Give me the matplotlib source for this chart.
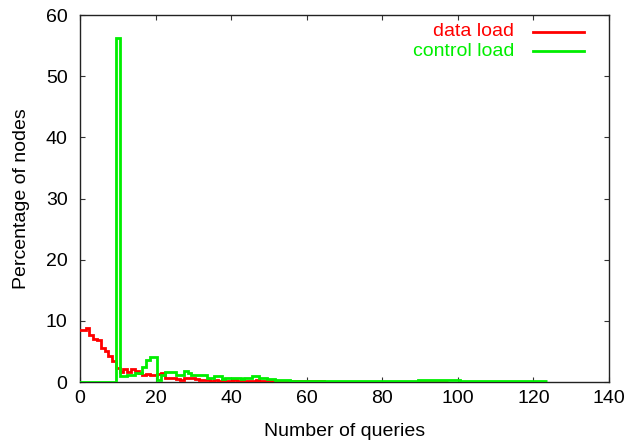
"""
Histogram of per-node query load (data vs control), gnuplot-like style.
Writes out.png
"""
import numpy as np
import matplotlib
matplotlib.use('Agg')
import matplotlib.pyplot as plt

# bin values at integer x = 0, 1, 2, ... (steps centred on x, width 1)
data_load = [8.5, 8.5, 8.8, 7.7, 7.0, 6.9, 5.5, 5.0, 4.2, 3.5,
             2.3, 1.6, 2.1, 1.7, 2.2, 1.8, 1.4, 1.2, 1.3, 1.1,
             1.1, 1.3, 1.4, 0.7, 0.7, 0.6, 0.5, 0.4, 0.7, 0.7,
             0.7, 0.5, 0.4, 0.3, 0.3, 0.2, 0.3, 0.2, 0.3, 0.2,
             0.1, 0.3, 0.2, 0.1, 0.2, 0.1, 0.2, 0.3, 0.1, 0.1,
             0.1, 0.1, 0.1, 0.1, 0.1, 0.1, 0.1]
control_load = [0.0, 0.0, 0.0, 0.0, 0.0, 0.0, 0.0, 0.0, 0.0, 0.0,
                56.3, 0.9, 0.9, 1.1, 1.1, 1.4, 1.4, 2.5, 3.6, 4.1,
                4.1, 0.3, 1.2, 1.6, 1.6, 1.7, 1.1, 1.1, 1.8, 1.5,
                1.1, 1.2, 1.2, 1.2, 0.6, 0.6, 0.9, 0.9, 0.5, 0.7,
                0.6, 0.7, 0.6, 0.5, 0.6, 0.7, 0.9, 1.0, 0.6, 0.6,
                0.5, 0.5, 0.4, 0.4, 0.3, 0.3, 0.2]
# wide low tail segments (edges, values)
data_tail_edges = [56.5, 64.5, 89.5, 97.5]
data_tail_values = [0.1, 0.0, 0.1]
control_tail_edges = [56.5, 89.5, 100.5, 123.5]
control_tail_values = [0.15, 0.35, 0.15]

labels = ['data load', 'control load']
colors = ['#ff0000', '#00ee00']

plt.rcParams['font.family'] = ['Liberation Sans', 'DejaVu Sans']
plt.rcParams['font.size'] = 14


def build(values, tail_edges, tail_values):
    edges = np.arange(len(values) + 1) - 0.5
    edges = np.concatenate([edges, tail_edges[1:]])
    vals = np.concatenate([values, tail_values])
    return edges, vals


fig = plt.figure(figsize=(6.37, 4.40), dpi=100)
ax = fig.add_axes([80 / 637, 58 / 440, 529 / 637, 367 / 440])

series = [build(data_load, data_tail_edges, data_tail_values),
          build(control_load, control_tail_edges, control_tail_values)]
for (edges, vals), c, z in zip(series, colors, [2.6, 2.7]):
    ax.stairs(vals, edges, baseline=None, color=c, linewidth=2, zorder=z)

ax.set_xlim(0, 140)
ax.set_ylim(0, 60)
ax.set_xticks(np.arange(0, 141, 20))
ax.set_yticks(np.arange(0, 61, 10))
ax.tick_params(direction='in', length=3.6, width=0.8, top=True, right=True,
               color='#333333')
ax.tick_params(axis='x', pad=6)
ax.tick_params(axis='y', pad=9)
for s in ax.spines.values():
    s.set_linewidth(1)
    s.set_color('#222222')

ax.set_xlabel('Number of queries', labelpad=11)
ax.set_ylabel('Percentage of nodes', labelpad=11)

# gnuplot-style key: right-aligned label, then line sample
key_y = [0.9545, 0.9019]
for lab, c, y in zip(labels, colors, key_y):
    ax.text(0.8204, y, lab, color=c, ha='right', va='center',
            transform=ax.transAxes)
    ax.plot([0.8563, 0.9527], [y, y], color=c, linewidth=2,
            transform=ax.transAxes, clip_on=False)

fig.savefig('out.png', dpi=100)
